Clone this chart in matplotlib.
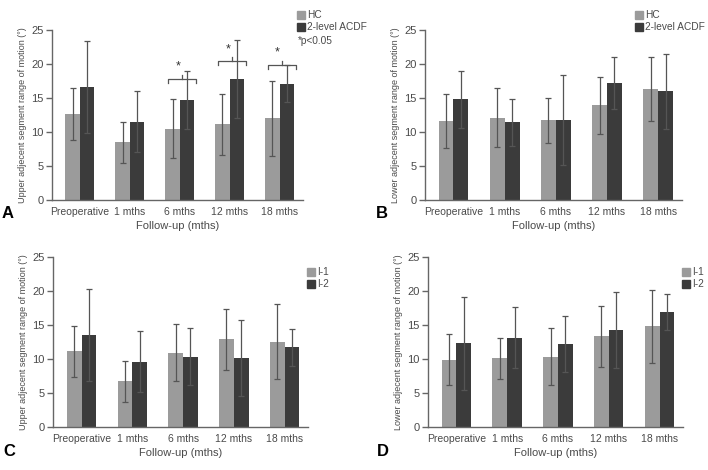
import numpy as np
import matplotlib
matplotlib.use("Agg")
import matplotlib.pyplot as plt
from matplotlib.patches import Rectangle

plt.rcParams['font.family'] = ['Liberation Sans', 'DejaVu Sans']

timepoints = ["Preoperative", "1 mths", "6 mths", "12 mths", "18 mths"]

# A: upper adjacent segment, HC vs 2-level ACDF
a_hc = [12.6, 8.5, 10.5, 11.1, 12.0]
a_hc_sd = [3.8, 3.0, 4.3, 4.5, 5.5]
a_acdf = [16.6, 11.5, 14.7, 17.8, 17.1]
a_acdf_sd = [6.8, 4.5, 4.2, 5.7, 2.7]
# significance brackets (group index, bracket height)
a_sig_idx = [2, 3, 4]
a_sig_y = [17.8, 20.4, 19.85]

# B: lower adjacent segment, HC vs 2-level ACDF
b_hc = [11.6, 12.1, 11.7, 13.9, 16.3]
b_hc_sd = [4.0, 4.3, 3.3, 4.2, 4.7]
b_acdf = [14.8, 11.4, 11.8, 17.2, 16.0]
b_acdf_sd = [4.2, 3.4, 6.6, 3.8, 5.5]

# C: upper adjacent segment, I-1 vs I-2
c_i1 = [11.1, 6.7, 10.9, 12.9, 12.5]
c_i1_sd = [3.7, 3.0, 4.2, 4.5, 5.5]
c_i2 = [13.5, 9.6, 10.3, 10.1, 11.7]
c_i2_sd = [6.8, 4.5, 4.2, 5.6, 2.7]

# D: lower adjacent segment, I-1 vs I-2
d_i1 = [9.9, 10.1, 10.3, 13.3, 14.8]
d_i1_sd = [3.7, 3.0, 4.2, 4.5, 5.4]
d_i2 = [12.3, 13.1, 12.2, 14.2, 16.9]
d_i2_sd = [6.8, 4.5, 4.1, 5.6, 2.7]

LIGHT = "#9b9b9b"
DARK = "#3b3b3b"
AXC = "#666666"
TXT = "#4a4a4a"
W, H = 708, 470

fig = plt.figure(figsize=(7.08, 4.70), dpi=100)


def panel(rect, v1, s1, v2, s2, ylabel, letter, letter_xy, labels, legend_xy, extra=None):
    ax = fig.add_axes(rect)
    x = np.arange(len(timepoints))
    w = 0.29
    ax.bar(x - w / 2, v1, w, color=LIGHT, zorder=2)
    ax.bar(x + w / 2, v2, w, color=DARK, zorder=2)
    ek = dict(fmt="none", ecolor="#555555", elinewidth=0.9, capsize=2.2, capthick=0.9, zorder=3)
    ax.errorbar(x - w / 2, v1, yerr=s1, **ek)
    ax.errorbar(x + w / 2, v2, yerr=s2, **ek)
    ax.set_xlim(-0.56, 4.46)
    ax.set_ylim(0, 25)
    ax.set_yticks([0, 5, 10, 15, 20, 25])
    ax.set_xticks(x)
    ax.set_xticklabels(timepoints)
    for s in ["top", "right"]:
        ax.spines[s].set_visible(False)
    for s in ["left", "bottom"]:
        ax.spines[s].set_color(AXC)
        ax.spines[s].set_linewidth(1.0)
    ax.tick_params(axis="y", length=4, width=1.0, color=AXC, labelsize=8, labelcolor=TXT, pad=2)
    ax.tick_params(axis="x", length=0, labelsize=7.5, labelcolor=TXT, pad=5)
    ax.set_ylabel(ylabel, fontsize=6.5, color=TXT, labelpad=3)
    ax.set_xlabel("Follow-up (mths)", fontsize=8, color=TXT, labelpad=3)
    fig.text(letter_xy[0] / W, 1 - letter_xy[1] / H, letter, fontsize=12,
             fontweight="bold", color="black", ha="left", va="center")
    # legend squares
    lx, ly = legend_xy
    for i, (lab, col) in enumerate(zip(labels, [LIGHT, DARK])):
        yy = ly - i * 12 / H
        fig.patches.append(Rectangle((lx, yy - 4 / H), 8 / W, 8 / H,
                                     transform=fig.transFigure, color=col, figure=fig))
        fig.text(lx + 10 / W, yy, lab, fontsize=7.3, color=TXT, va="center", ha="left")
    if extra:
        fig.text(lx + 1 / W, ly - 2 * 12 / H - 2 / H, extra, fontsize=7.3,
                 color=TXT, va="center", ha="left")
    return ax


ylab_up = "Upper adjecent segment range of motion (°)"
ylab_lo = "Lower adjecent segment range of motion (°)"

axA = panel([0.0734, 0.5745, 0.354, 0.362], a_hc, a_hc_sd, a_acdf, a_acdf_sd,
            ylab_up, "A", (2, 213), ["HC", "2-level ACDF"], (297 / W, 1 - 15 / H), extra="*p<0.05")
panel([0.600, 0.5745, 0.363, 0.362], b_hc, b_hc_sd, b_acdf, b_acdf_sd,
      ylab_lo, "B", (376, 213), ["HC", "2-level ACDF"], (635 / W, 1 - 15 / H))
panel([0.075, 0.0915, 0.36, 0.362], c_i1, c_i1_sd, c_i2, c_i2_sd,
      ylab_up, "C", (3, 452), ["I-1", "I-2"], (307 / W, 1 - 272 / H))
panel([0.6045, 0.0915, 0.36, 0.362], d_i1, d_i1_sd, d_i2, d_i2_sd,
      ylab_lo, "D", (377, 452), ["I-1", "I-2"], (682 / W, 1 - 272 / H))

# significance brackets on panel A
for gi, by in zip(a_sig_idx, a_sig_y):
    x0, x1 = gi - 0.24, gi + 0.32
    xm = (x0 + x1) / 2
    axA.plot([x0, x0, x1, x1], [by - 0.6, by, by, by - 0.6], color="#555555", lw=0.9, zorder=4)
    axA.plot([xm, xm], [by, by + 0.6], color="#555555", lw=0.9, zorder=4)
    axA.text(xm - 0.08, by + 0.9, "*", ha="center", va="bottom", fontsize=9, color="#333333")

fig.savefig("out.png", dpi=100)
